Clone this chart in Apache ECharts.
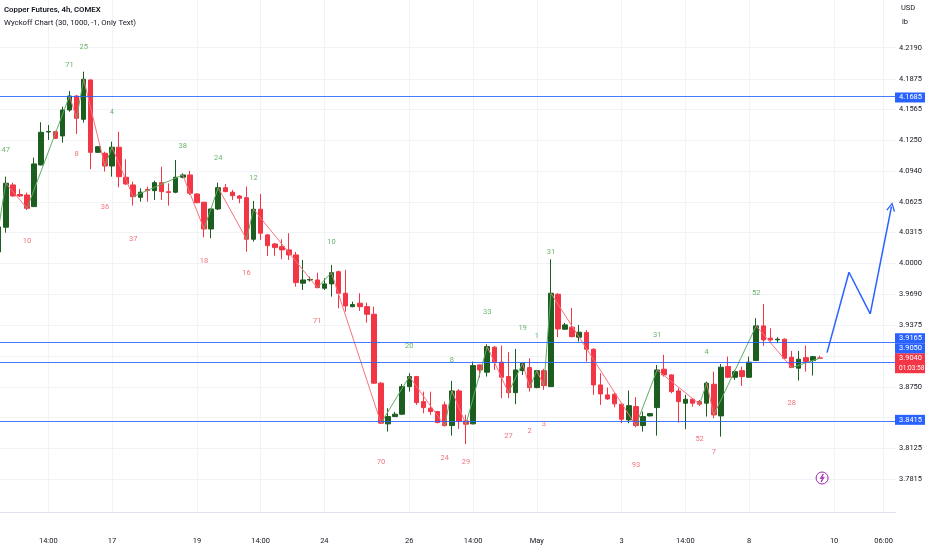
<!DOCTYPE html>
<html><head><meta charset="utf-8">
<script src="https://cdn.jsdelivr.net/npm/echarts@6/dist/echarts.min.js"></script>
<style>html,body{margin:0;padding:0;background:#fff}#c{width:932px;height:550px}</style>
</head><body><div id="c"></div>
<script>
// ---- data (4h candles, index 0..116) ----
const opens=[4.0118,4.0369,4.0798,4.0701,4.0696,4.0578,4.1001,4.1335,4.1338,4.1295,
4.1558,4.1700,4.1464,4.1863,4.1129,4.1119,4.0990,4.1180,4.0876,4.0798,
4.0673,4.0752,4.0740,4.0821,4.0729,4.0724,4.0876,4.0899,4.0706,4.0622,
4.0351,4.0554,4.0770,4.0724,4.0686,4.0669,4.0247,4.0551,4.0291,4.0199,
4.0172,4.0139,4.0088,3.9801,3.9834,3.9834,3.9750,3.9794,3.9918,3.9699,
3.9563,3.9598,3.9563,3.9486,3.8787,3.8374,3.8448,3.8472,3.8752,3.8854,
3.8600,3.8533,3.8499,3.8567,3.8357,3.8708,3.8404,3.8374,3.8972,3.8898,
3.9152,3.9000,3.8854,3.8691,3.8914,3.8945,3.8742,3.8914,3.8752,3.9689,
3.9334,3.9355,3.9253,3.9300,3.9131,3.8769,3.8668,3.8675,3.8574,3.8414,
3.8549,3.8357,3.8455,3.8539,3.8929,3.8871,3.8708,3.8584,3.8624,3.8600,
3.8584,3.8776,3.8455,3.8955,3.8847,3.8914,3.8847,3.9016,3.9368,3.9243,
3.9226,3.9233,3.9050,3.8939,3.9046,3.9016,3.9043];
const closes=[4.0372,4.0815,4.0686,4.0686,4.0561,4.1011,4.1332,4.1340,4.1271,4.1558,
4.1700,4.1474,4.1870,4.1129,4.1186,4.0990,4.1180,4.0882,4.0808,4.0679,
4.0724,4.0742,4.0821,4.0730,4.0722,4.0876,4.0899,4.0714,4.0618,4.0351,
4.0554,4.0770,4.0730,4.0689,4.0663,4.0247,4.0551,4.0308,4.0182,4.0162,
4.0139,4.0088,3.9807,3.9834,3.9839,3.9756,3.9794,3.9908,3.9699,3.9571,
3.9584,3.9563,3.9486,3.8787,3.8381,3.8448,3.8472,3.8752,3.8854,3.8590,
3.8539,3.8499,3.8387,3.8357,3.8708,3.8397,3.8371,3.8965,3.8921,3.9158,
3.9000,3.8847,3.8691,3.8921,3.8989,3.8742,3.8914,3.8762,3.9699,3.9337,
3.9378,3.9259,3.9304,3.9131,3.8769,3.8678,3.8627,3.8577,3.8421,3.8559,
3.8357,3.8448,3.8478,3.8921,3.8871,3.8701,3.8600,3.8624,3.8584,3.8574,
3.8787,3.8465,3.8949,3.8847,3.8904,3.8854,3.9000,3.9368,3.9226,3.9226,
3.9233,3.9040,3.8945,3.9030,3.9006,3.9056,3.9040];
const lows=[4.0098,4.0314,4.0679,4.0676,4.0544,4.0575,4.0996,4.1254,4.1264,4.1227,
4.1541,4.1315,4.1430,4.0957,4.1122,4.0933,4.0882,4.0774,4.0798,4.0588,
4.0628,4.0628,4.0646,4.0646,4.0588,4.0714,4.0866,4.0696,4.0612,4.0267,
4.0257,4.0544,4.0724,4.0646,4.0612,4.0121,4.0223,4.0240,4.0078,4.0078,
4.0044,4.0037,3.9766,3.9733,3.9817,3.9750,3.9733,3.9665,3.9547,3.9513,
3.9557,3.9520,3.9401,3.8779,3.8374,3.8296,3.8445,3.8465,3.8701,3.8567,
3.8482,3.8465,3.8381,3.8346,3.8255,3.8323,3.8168,3.8369,3.8843,3.8854,
3.8921,3.8634,3.8634,3.8574,3.8871,3.8701,3.8736,3.8719,3.8749,3.9253,
3.9327,3.9251,3.9209,3.9006,3.8668,3.8567,3.8617,3.8543,3.8381,3.8381,
3.8340,3.8296,3.8448,3.8255,3.8854,3.8685,3.8387,3.8320,3.8549,3.8556,
3.8448,3.8432,3.8245,3.8837,3.8820,3.8759,3.8840,3.9013,3.9165,3.9209,
3.9198,3.9033,3.8942,3.8813,3.8904,3.8864,3.9039];
const highs=[4.0392,4.0882,4.0821,4.0757,4.0720,4.1075,4.1434,4.1406,4.1348,4.1592,
4.1751,4.1711,4.1947,4.1868,4.1193,4.1135,4.1237,4.1338,4.1058,4.0831,
4.0764,4.0781,4.0841,4.0983,4.0815,4.1051,4.0916,4.0940,4.0714,4.0628,
4.0561,4.0821,4.0808,4.0747,4.0696,4.0781,4.0635,4.0706,4.0301,4.0210,
4.0247,4.0308,4.0118,4.0037,3.9868,3.9908,3.9851,3.9986,3.9929,3.9936,
3.9614,3.9699,3.9604,3.9563,3.8800,3.8533,3.8496,3.8779,3.8888,3.8861,
3.8701,3.8701,3.8506,3.8600,3.8810,3.8726,3.8465,3.9006,3.8977,3.9182,
3.9165,3.9168,3.9101,3.9134,3.8999,3.9040,3.8921,3.8932,4.0044,3.9699,
3.9398,3.9550,3.9378,3.9327,3.9142,3.8888,3.8742,3.8685,3.8577,3.8712,
3.8645,3.8499,3.8485,3.8972,3.9074,3.8876,3.8736,3.8668,3.8627,3.8617,
3.8803,3.8904,3.8982,3.9056,3.8921,3.8955,3.9056,3.9446,3.9591,3.9344,
3.9253,3.9241,3.9114,3.9114,3.9168,3.9063,3.9066];

// time-axis ticks (candle index -> label)
const xTickIdx=[7,16,28,37,46,58,67,76,88,97,106,118,125];
const xTickLabels=['14:00','17','19','14:00','24','26','14:00','May','3','14:00','8','10','06:00'];
// price-axis ticks
const yTickVals=[4.2190,4.1875,4.1565,4.1250,4.0940,4.0625,4.0315,4.0000,3.9690,3.9375,3.8750,3.8125,3.7815];
const yGridVals=[4.2190,4.1875,4.1565,4.1250,4.0940,4.0625,4.0315,4.0000,3.9690,3.9375,3.9065,3.8750,3.8440,3.8125,3.7815];

// zigzag pivots (candle indices, alternating swing ends)
const pivotIdx=[0,1,4,10,11,12,15,16,19,26,29,31,35,36,45,47,54,58,63,64,66,69,72,74,75,76,77,78,90,93,99,100,101,107,112,116];

// wave annotations
const upIdx=[1,10,12,16,26,31,36,47,58,64,69,74,76,78,93,100,107];
const upPrice=[4.1153,4.2015,4.2200,4.1535,4.1196,4.1069,4.0866,4.0213,3.9158,3.9023,3.9503,3.9350,3.9269,4.0115,3.9277,3.9097,3.9699];
const upText=['47','71','25','4','38','24','12','10','20','8','33','19','1','31','31','4','52'];
const dnIdx=[4,11,15,19,29,35,45,54,63,66,72,75,77,90,99,101,112];
const dnPrice=[4.0230,4.1113,4.0568,4.0247,4.0020,3.9902,3.9421,3.7981,3.8026,3.7981,3.8252,3.8303,3.8371,3.7958,3.8219,3.8083,3.8584];
const dnText=['10','8','36','37','18','16','71','70','24','29','27','2','3','93','52','7','28'];

// drawn levels & projection
const levelVals=[4.1685,3.9165,3.9050,3.8415];
const currentPrice=3.9040;
const countdown='01:03:58';
const projIdx=[117.0,120.1,123.1,126.1];
const projPrice=[3.9097,3.9912,3.9489,4.0578];
const eventIdx=116.3;

// axis extents
const X_MIN=0.184, X_MAX=126.74, Y_MIN=3.7480, Y_MAX=4.2674;

const FONT='Roboto';
const UP='#1b5e20', DN='#f23645', BLUE='#2962ff';

const candleData=opens.map((o,i)=>[i,o,closes[i],lows[i],highs[i]]);
const zig=[];
for(let k=0;k<pivotIdx.length-1;k++){
  const a=pivotIdx[k], b=pivotIdx[k+1];
  const up=closes[b]>closes[a];
  zig.push({coords:[[a,closes[a]],[b,closes[b]]],lineStyle:{color:up?'#5fae63':'#f7737d'}});
}
const proj=[];
for(let k=0;k<projIdx.length-1;k++){
  const it={coords:[[projIdx[k],projPrice[k]],[projIdx[k+1],projPrice[k+1]]]};
  if(k===projIdx.length-2){it.symbol=['none','path://M0,10L5,0L10,10L8.6,10.6L5,3.2L1.4,10.6Z'];it.symbolSize=[8,9];}
  proj.push(it);
}

const chart=echarts.init(document.getElementById('c'),null,{renderer:'canvas'});
chart.setOption({
  animation:false,
  backgroundColor:'#ffffff',
  textStyle:{fontFamily:FONT},
  title:{left:4,top:6,padding:0,text:'Copper Futures, 4h, COMEX',subtext:'Wyckoff Chart (30, 1000, -1, Only Text)',itemGap:5,
    textStyle:{fontSize:7.8,fontWeight:600,color:'#131722',fontFamily:FONT},
    subtextStyle:{fontSize:7.8,color:'#131722',fontFamily:FONT}},
  grid:{left:0,right:36,top:0,bottom:38,outerBoundsMode:'none',containLabel:false},
  xAxis:{type:'value',min:X_MIN,max:X_MAX,
    axisLine:{show:true,lineStyle:{color:'#e0e3eb'}},
    axisTick:{show:false,customValues:xTickIdx},
    axisLabel:{customValues:xTickIdx,formatter:v=>{const k=xTickIdx.indexOf(v);return k>=0?xTickLabels[k]:'';},
      color:'#131722',fontSize:7.5,margin:25},
    splitLine:{show:true,lineStyle:{color:'#f1f3f7'}}},
  yAxis:{type:'value',position:'right',min:Y_MIN,max:Y_MAX,scale:true,
    axisLine:{show:false},axisTick:{show:false,customValues:yGridVals},
    axisLabel:{customValues:yTickVals,formatter:v=>v.toFixed(4),color:'#131722',fontSize:7.5,margin:3},
    splitLine:{show:true,lineStyle:{color:'#f1f3f7'}}},
  series:[
    {type:'candlestick',data:candleData,barWidth:5,z:3,
      itemStyle:{color:UP,color0:DN,borderColor:UP,borderColor0:DN,borderWidth:1},
      markLine:{silent:true,symbol:'none',label:{show:false},lineStyle:{color:BLUE,type:'solid',width:1,opacity:0.85},
        data:levelVals.map(v=>({yAxis:v}))}},
    {type:'lines',coordinateSystem:'cartesian2d',z:4,silent:true,lineStyle:{width:1,opacity:1},data:zig},
    {type:'lines',coordinateSystem:'cartesian2d',z:5,silent:true,lineStyle:{width:1.5,color:BLUE,opacity:1},data:proj},
    {type:'scatter',symbolSize:0,z:6,silent:true,data:upIdx.map((x,k)=>[x,upPrice[k]]),
      label:{show:true,position:'inside',color:'#43a047',fontSize:7.5,formatter:p=>upText[p.dataIndex]}},
    {type:'scatter',symbolSize:0,z:6,silent:true,data:dnIdx.map((x,k)=>[x,dnPrice[k]]),
      label:{show:true,position:'inside',color:'#ef4f5f',fontSize:7.5,formatter:p=>dnText[p.dataIndex]}}
  ]
});

// ---- price-scale badges, positioned through the axes ----
const pxY=v=>chart.convertToPixel({yAxisIndex:0},v);
const rightPx=chart.convertToPixel({xAxisIndex:0},X_MAX);
const bottomPx=pxY(Y_MIN);
const H=10, W=30;
const boxes=[{top:pxY(currentPrice)-H/2,h:2*H,lines:[currentPrice.toFixed(4),countdown],color:DN}];
levelVals.map(v=>({v,y:pxY(v)})).sort((a,b)=>b.y-a.y).forEach(l=>{
  let top=l.y-H/2, moved=true;
  while(moved){moved=false;for(const b of boxes){if(top<b.top+b.h&&top+H>b.top){top=b.top-H;moved=true;}}}
  boxes.push({top,h:H,lines:[l.v.toFixed(4)],color:BLUE});
});
const g=[];
boxes.forEach(b=>{
  g.push({type:'rect',z:100,shape:{x:rightPx-1,y:b.top,width:W,height:b.h},style:{fill:b.color}});
  b.lines.forEach((t,k)=>g.push({type:'text',z:101,x:rightPx+3,y:b.top+H/2+k*H,
    style:{text:t,fill:'#ffffff',font:(k>0?'6.6px ':'7.5px ')+FONT,verticalAlign:'middle'}}));
});
g.push({type:'text',x:rightPx+5,y:8,style:{text:'USD',fill:'#131722',font:'7.5px '+FONT,verticalAlign:'middle'}});
g.push({type:'text',x:rightPx+6,y:22,style:{text:'lb',fill:'#131722',font:'7.5px '+FONT,verticalAlign:'middle'}});
// event marker (lightning)
const ex=chart.convertToPixel({xAxisIndex:0},eventIdx), ey=bottomPx-34;
g.push({type:'circle',z:50,shape:{cx:ex,cy:ey,r:6},style:{fill:'#fff',stroke:'#9c27b0',lineWidth:1}});
g.push({type:'polyline',z:51,shape:{points:[[ex+1.2,ey-4],[ex-2,ey+0.6],[ex+0.6,ey+0.2],[ex-1,ey+4],[ex+2.2,ey-0.8],[ex-0.4,ey-0.4],[ex+1.2,ey-4]]},style:{fill:'none',stroke:'#9c27b0',lineWidth:0.9}});
chart.setOption({graphic:g});
</script></body></html>
